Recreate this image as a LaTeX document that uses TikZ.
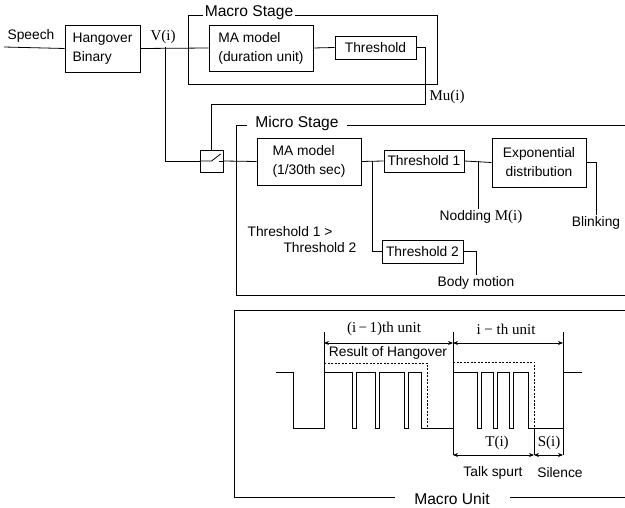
\documentclass[tikz,border=0pt]{standalone}
\usepackage{fontspec}
\setmainfont{Liberation Sans}
\newfontfamily\timesfont{Liberation Serif}
\usetikzlibrary{arrows.meta}
\newcommand{\tm}[1]{{\timesfont\fontsize{15}{18}\selectfont #1}}

\begin{document}
\begin{tikzpicture}[x=1pt, y=-1pt, line width=0.8pt,
    font=\fontsize{13.8}{19}\selectfont,
    box/.style = {draw, inner sep=0pt, align=center},
    lbl/.style = {inner sep=1pt},
    title/.style = {inner sep=1pt, font=\fontsize{15.6}{18}\selectfont},
    dim/.style = {{Stealth[length=5pt,width=4pt]}-{Stealth[length=5pt,width=4pt]}},
    hangover/.style = {dash pattern=on 2pt off 1.5pt, line width=0.7pt}]
    \useasboundingbox (0,0) rectangle (625,508);

    % upper stage
    \coordinate (speechin) at (4,47);
    \node[lbl] (speech) at (31,36) {Speech};
    \node[box, minimum width=75pt, minimum height=47pt, align=left] (hang) at (102.5,48.5) {Hangover\\Binary};
    \node[lbl] (vi) at (163,37) {\tm{V(i)}};
    \coordinate (vj) at (165,47);
    \draw (203,15) -- (188,15) -- (188,84) -- (437,84) -- (437,15) -- (295,15);
    \node[title] (macrostage) at (249,13) {Macro Stage};
    \node[box, minimum width=104pt, minimum height=46pt, align=left] (mama) at (261,48) {MA model\\(duration unit)};
    \node[box, minimum width=81pt, minimum height=23pt] (thr) at (375.5,47.5) {Threshold};
    \coordinate (mucorner) at (425,104);
    \node[lbl] (mu) at (447,97) {\tm{Mu(i)}};

    \draw (speechin) -- (hang.west);
    \draw (hang.east) -- (mama.west);
    \draw (mama.east) -- (thr.west);

    % switch
    \node[box, minimum width=23pt, minimum height=22pt] (sw) at (211.5,161) {};
    \draw (sw.west) -- ++(12,0) -- ++(9,-7);
    \draw (sw.east) -- ++(-4,0);
    \draw (vj) |- (sw.west);
    \draw (thr.east) -| (mucorner) -| (sw.north);

    % micro stage
    \draw (247,125) -- (236,125) -- (236,295) -- (625,295);
    \draw (347,125) -- (625,125);
    \node[title] (microstage) at (297,123) {Micro Stage};
    \node[box, minimum width=104pt, minimum height=47pt, align=left] (mami) at (309,161.5) {MA model\\(1/30th sec)};
    \node[box, minimum width=80pt, minimum height=22pt] (th1) at (424,161) {Threshold 1};
    \node[box, minimum width=81pt, minimum height=23pt] (th2) at (422.5,251.5) {Threshold 2};
    \node[box, minimum width=94pt, minimum height=49pt] (expo) at (539,162.5) {Exponential\\distribution};
    \node[lbl] (cmp1) at (290,232) {Threshold 1 >};
    \node[lbl] (cmp2) at (320,248) {Threshold 2};
    \node[lbl] (nod) at (481,217) {Nodding \tm{M(i)}};
    \node[lbl] (blink) at (596,223) {Blinking};
    \node[lbl] (body) at (476,283) {Body motion};
    \coordinate (j1) at (372,161);
    \coordinate (j2) at (478,161);

    \draw (sw.east) -- (mami.west);
    \draw (mami.east) -- (th1.west);
    \draw (j1) |- (th2.west);
    \draw (th1.east) -- (expo.west);
    \draw (j2) -- (j2 |- nod.north);
    \draw (expo.east) -| (blink.north);
    \draw (th2.east) -| (body.north);

    % macro unit
    \draw (625,310) -- (234,310) -- (234,497) -- (395,497);
    \draw (510,497) -- (625,497);
    \node[title] (macrounit) at (452,499) {Macro Unit};

    \draw (276,372) -- (293,372) -- (293,428) -- (324,428) -- (324,372)
        -- (352,372) -- (352,428) -- (356,428) -- (356,372)
        -- (375,372) -- (375,428) -- (379,428) -- (379,372)
        -- (404,372) -- (404,428) -- (408,428) -- (408,372)
        -- (421,372) -- (421,428) -- (453,428) -- (453,372)
        -- (477,372) -- (477,428) -- (481,428) -- (481,372)
        -- (493,372) -- (493,428) -- (497,428) -- (497,372)
        -- (509,372) -- (509,428) -- (513,428) -- (513,372)
        -- (528,372) -- (528,428) -- (563,428) -- (563,372) -- (582,372);
    \draw[hangover] (324,363) -- (427,363) -- (427,428);
    \draw[hangover] (453,362) -- (534,362) -- (534,428);

    \coordinate (u0) at (324,343);
    \coordinate (u1) at (453,343);
    \coordinate (u2) at (563,343);
    \coordinate (t0) at (453,455);
    \coordinate (t1) at (534,455);
    \coordinate (t2) at (563,455);
    \draw (324,332) -- (324,372);
    \draw (453,332) -- (453,455);
    \draw (563,332) -- (563,455);
    \draw (534,428) -- (534,455);
    \draw[dim] (u0) -- (u1);
    \draw[dim] (u1) -- (u2);
    \draw[dim] (t0) -- (t1);
    \draw[dim] (t1) -- (t2);

    \node[lbl] (prevunit) at (384,329) {\tm{(i\,−\,1)th unit}};
    \node[lbl] (thisunit) at (506,329) {\tm{i − th unit}};
    \node[lbl] (result) at (388,353) {Result of Hangover};
    \node[lbl] (ti) at (497,443) {\tm{T(i)}};
    \node[lbl] (si) at (549,443) {\tm{S(i)}};
    \node[lbl] (talk) at (493,473) {Talk spurt};
    \node[lbl] (silence) at (560,473) {Silence};
\end{tikzpicture}
\end{document}
